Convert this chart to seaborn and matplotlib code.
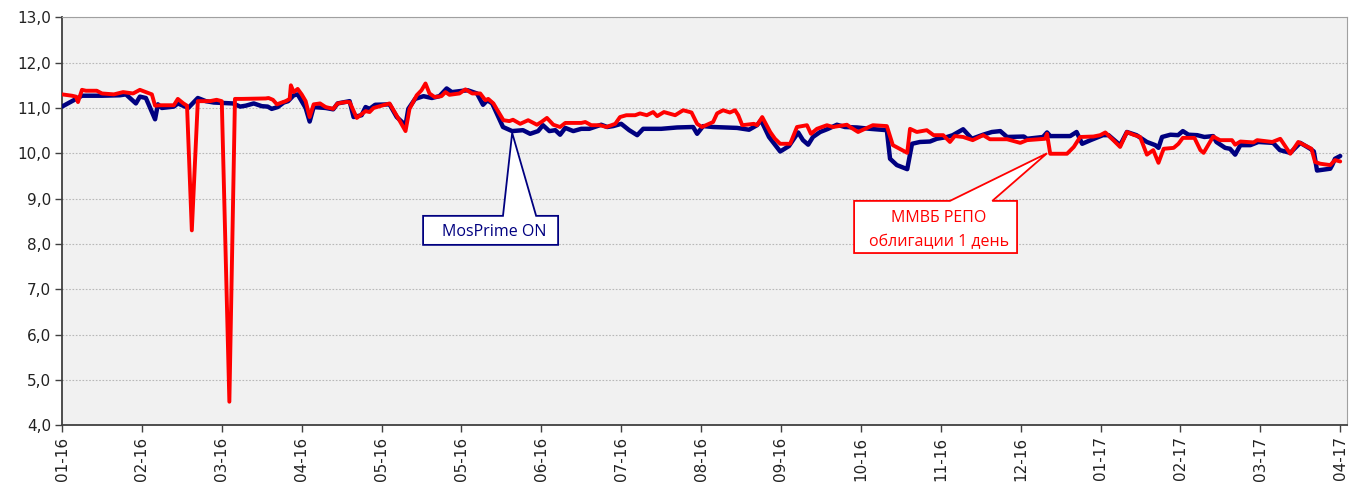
import matplotlib
matplotlib.use("Agg")
import matplotlib.pyplot as plt
import seaborn as sns
import pandas as pd
from matplotlib.patches import Polygon

# ---------------- data (business-day index, rate %) ----------------
tick_labels = ['01-16', '02-16', '03-16', '04-16', '05-16', '05-16', '06-16', '07-16',
               '08-16', '09-16', '10-16', '11-16', '12-16', '01-17', '02-17', '03-17', '04-17']

mosprime_day = [0, 5, 10, 14.5, 16, 18.5, 19.5, 21, 23.3, 24, 25, 28, 29, 31.6, 34, 36, 38, 42.8,
                44.6, 46, 48, 50, 51.5, 52.5, 54, 55.5, 56.6, 58, 59, 60, 61, 62, 63, 66, 67.9,
                69, 72, 73, 75, 76, 77, 78.4, 82, 83.8, 86, 86.7, 88.4, 90.5, 92.6, 94.5, 96.3,
                97.6, 100.4, 101.6, 103.9, 105.4, 106.5, 107.7, 110.4, 112.7, 115.4, 117.2,
                119.2, 120.4, 122, 123.5, 124.7, 126, 128, 130, 132, 135, 136.5, 138, 140, 142,
                144, 145.5, 150, 154, 158, 159, 160.5, 163, 169, 172, 174, 175, 177, 179.8, 182,
                184.3, 185.5, 186.8, 188, 189.8, 191.8, 194, 196, 199, 202.3, 206.5, 207.3, 209,
                211.6, 212.8, 214.8, 217.3, 219, 221.6, 223, 225.6, 227.8, 230.6, 232.8, 234.9,
                236.6, 240.8, 241.6, 245.6, 246.6, 247.4, 252.4, 254, 255.4, 257.5, 260.6, 262,
                264.9, 266.6, 269, 271.6, 273.7, 274.5, 275.4, 277.5, 279.4, 280.6, 282, 284.2,
                286, 288.2, 289, 291.2, 292.4, 293.7, 295, 297.5, 299.5, 303.2, 304.9, 307.5,
                310, 312.5, 313.4, 314.2, 317.5, 318, 318.7, 320]
mosprime_val = [11.03, 11.27, 11.27, 11.28, 11.30, 11.10, 11.25, 11.22, 10.75, 11.08, 11.00, 11.03,
                11.10, 11.00, 11.22, 11.15, 11.12, 11.10, 11.03, 11.05, 11.10, 11.04, 11.03, 10.98,
                11.02, 11.12, 11.15, 11.28, 11.30, 11.15, 11.00, 10.70, 11.02, 11.00, 10.97, 11.10,
                11.15, 10.80, 10.84, 11.02, 10.98, 11.07, 11.08, 10.80, 10.62, 10.98, 11.20, 11.26,
                11.22, 11.26, 11.43, 11.35, 11.38, 11.39, 11.32, 11.07, 11.17, 11.10, 10.58, 10.49,
                10.51, 10.43, 10.49, 10.62, 10.49, 10.51, 10.41, 10.56, 10.49, 10.54, 10.54, 10.63,
                10.58, 10.60, 10.65, 10.51, 10.40, 10.54, 10.54, 10.57, 10.58, 10.43, 10.60, 10.58,
                10.56, 10.52, 10.62, 10.73, 10.36, 10.04, 10.16, 10.46, 10.29, 10.19, 10.36, 10.47,
                10.54, 10.63, 10.58, 10.57, 10.54, 10.51, 9.88, 9.74, 9.65, 10.21, 10.25, 10.26,
                10.32, 10.36, 10.40, 10.53, 10.32, 10.41, 10.47, 10.49, 10.36, 10.37, 10.32, 10.36,
                10.46, 10.38, 10.38, 10.47, 10.21, 10.29, 10.40, 10.40, 10.18, 10.47, 10.40, 10.25,
                10.18, 10.12, 10.36, 10.41, 10.40, 10.49, 10.41, 10.40, 10.36, 10.38, 10.25, 10.12,
                10.10, 9.97, 10.18, 10.18, 10.25, 10.23, 10.07, 10.01, 10.23, 10.10, 10.04, 9.62,
                9.66, 9.74, 9.88, 9.94]

repo_day = [0, 2.5, 3.5, 4, 5, 6, 8.7, 10, 13, 15.3, 17.8, 19.5, 21, 22.5, 23.3, 24.5, 28, 29,
            30.4, 31.3, 32.5, 34, 37, 38.7, 40, 41.9, 43.3, 45, 51, 51.7, 52.8, 53.8, 55, 56, 57,
            57.3, 58, 59, 60, 61, 62, 63, 64.6, 66, 67.9, 69, 71, 72, 73.8, 76, 77, 78, 82, 84,
            86, 87, 88.8, 90, 91, 92, 93.3, 95, 96, 97, 99.5, 101, 102.7, 104.7, 106, 106.7, 108,
            110.5, 112, 112.9, 114.7, 116.7, 118.9, 120, 121.4, 123, 124.7, 126, 130, 131, 132.5,
            134.7, 136.3, 138.5, 139.7, 141.3, 143.5, 144.7, 146.4, 148, 149, 150.7, 153.5, 155.5,
            157.6, 159, 160.2, 163, 164, 165.5, 167.2, 168.5, 169.3, 170.3, 173.2, 174, 175.3,
            177.3, 178.5, 179.8, 182.3, 184, 186.5, 187.5, 189, 191.5, 193, 196.5, 197.3, 199.3,
            203, 206.5, 208, 211.6, 212.3, 214, 216.5, 218.2, 220.6, 222.3, 223.5, 225.6, 228,
            230.6, 232.3, 236.6, 239.9, 241.6, 246.1, 246.6, 247.4, 251.6, 253.3, 254.9, 258.2,
            259.9, 261.2, 263.2, 264.9, 266.6, 268.2, 269.9, 271.6, 273.2, 274.5, 275.8, 278.3,
            279.5, 280.6, 283.5, 285, 285.8, 288.2, 289.9, 292.9, 293.7, 295, 298.3, 299.2, 303,
            305, 307.5, 309.5, 312.8, 313.7, 315, 317.5, 318.7, 320]
repo_val = [11.30, 11.27, 11.25, 11.13, 11.40, 11.38, 11.38, 11.32, 11.30, 11.35, 11.32, 11.40,
            11.35, 11.30, 11.05, 11.06, 11.06, 11.20, 11.10, 11.05, 8.30, 11.15, 11.15, 11.18,
            11.15, 4.52, 11.20, 11.20, 11.21, 11.22, 11.18, 11.08, 11.12, 11.15, 11.20, 11.50,
            11.35, 11.42, 11.30, 11.15, 10.80, 11.08, 11.10, 11.02, 10.98, 11.10, 11.13, 11.13,
            10.78, 10.93, 10.91, 11.00, 11.10, 10.80, 10.49, 10.98, 11.28, 11.39, 11.54, 11.32,
            11.24, 11.26, 11.35, 11.29, 11.32, 11.41, 11.32, 11.32, 11.17, 11.20, 11.10, 10.73,
            10.71, 10.74, 10.65, 10.73, 10.63, 10.69, 10.78, 10.63, 10.58, 10.67, 10.67, 10.69,
            10.62, 10.62, 10.58, 10.65, 10.80, 10.84, 10.84, 10.88, 10.84, 10.91, 10.82, 10.91,
            10.84, 10.95, 10.90, 10.65, 10.58, 10.69, 10.88, 10.95, 10.90, 10.95, 10.84, 10.62,
            10.65, 10.62, 10.80, 10.47, 10.32, 10.21, 10.21, 10.58, 10.62, 10.43, 10.54, 10.62,
            10.58, 10.63, 10.58, 10.47, 10.62, 10.60, 10.18, 10.01, 10.54, 10.47, 10.51, 10.40,
            10.40, 10.25, 10.38, 10.36, 10.29, 10.40, 10.31, 10.31, 10.23, 10.29, 10.32, 10.43,
            9.99, 9.99, 10.14, 10.36, 10.37, 10.40, 10.46, 10.29, 10.14, 10.47, 10.41, 10.36,
            9.97, 10.07, 9.79, 10.10, 10.12, 10.21, 10.34, 10.34, 10.07, 10.01, 10.37, 10.29,
            10.29, 10.19, 10.26, 10.24, 10.29, 10.25, 10.32, 9.99, 10.25, 10.10, 9.81, 9.77,
            9.74, 9.85, 9.82]

mos_df = pd.DataFrame({'day': mosprime_day, 'rate': mosprime_val})
repo_df = pd.DataFrame({'day': repo_day, 'rate': repo_val})

# ---------------- figure ----------------
sns.set_theme(style='white')
plt.rcParams['font.family'] = ['DejaVu Sans']

W, H = 1349, 488
fig = plt.figure(figsize=(W / 100, H / 100), dpi=100)
ax = fig.add_axes([62 / W, 1 - 425.3 / H, (1347 - 62) / W, (425.3 - 17.3) / H])
ax.set_facecolor('#F1F1F1')

NAVY = '#000080'
RED = '#FF0000'

sns.lineplot(data=mos_df, x='day', y='rate', ax=ax, color=NAVY, linewidth=3.2,
             estimator=None, sort=False, zorder=3,
             solid_joinstyle='round', solid_capstyle='round')
sns.lineplot(data=repo_df, x='day', y='rate', ax=ax, color=RED, linewidth=2.8,
             estimator=None, sort=False, zorder=4,
             solid_joinstyle='round', solid_capstyle='round')

ax.set_xlim(0, 321.7)
ax.set_ylim(4.0, 13.0)
step = 20
ax.set_xticks([i * step for i in range(len(tick_labels))])
ax.set_xticklabels(tick_labels, rotation=90, fontsize=11, color='#222222')
yt = [4 + i for i in range(10)]
ax.set_yticks(yt)
ax.set_yticklabels([f'{v:.1f}'.replace('.', ',') for v in yt], fontsize=11, color='#222222')
ax.set_xlabel('')
ax.set_ylabel('')

ax.grid(axis='y', linestyle=(0, (1.5, 1.5)), color='#B8B8B8', linewidth=0.8, zorder=1)
ax.grid(axis='x', visible=False)
ax.set_axisbelow(True)

for s in ['left', 'bottom']:
    ax.spines[s].set_color('#404040')
    ax.spines[s].set_linewidth(1.3)
for s in ['top', 'right']:
    ax.spines[s].set_color('#A0A0A0')
    ax.spines[s].set_linewidth(0.8)

ax.tick_params(axis='both', which='major', direction='out', length=5, width=1.0,
               color='#404040', bottom=True, left=True, pad=3)

# ---------------- callouts ----------------
def callout(x0, x1, y0, y1, bx0, bx1, tip, color):
    verts = [(x0, y0), (x1, y0), (x1, y1), (bx1, y1), tip, (bx0, y1), (x0, y1)]
    poly = Polygon(verts, closed=True, facecolor='white', edgecolor=color,
                   linewidth=1.3, zorder=5)
    ax.add_patch(poly)

callout(90.4, 124.2, 7.98, 8.62, 110.4, 118.7, (112.7, 10.45), NAVY)
ax.text(108.2, 8.26, 'MosPrime ON', ha='center', va='center', color=NAVY,
        fontsize=11.5, family=['Open Sans', 'DejaVu Sans'], zorder=6)

callout(198.3, 239.1, 7.80, 8.95, 222.3, 232.9, (246.6, 10.0), RED)
ax.text(219.6, 8.57, 'ММВБ РЕПО', ha='center', va='center', color=RED,
        fontsize=11.5, family=['Open Sans', 'DejaVu Sans'], zorder=6)
ax.text(219.6, 8.04, 'облигации 1 день', ha='center', va='center', color=RED,
        fontsize=11.5, family=['Open Sans', 'DejaVu Sans'], zorder=6)

fig.savefig('out.png', dpi=100, facecolor='white')
